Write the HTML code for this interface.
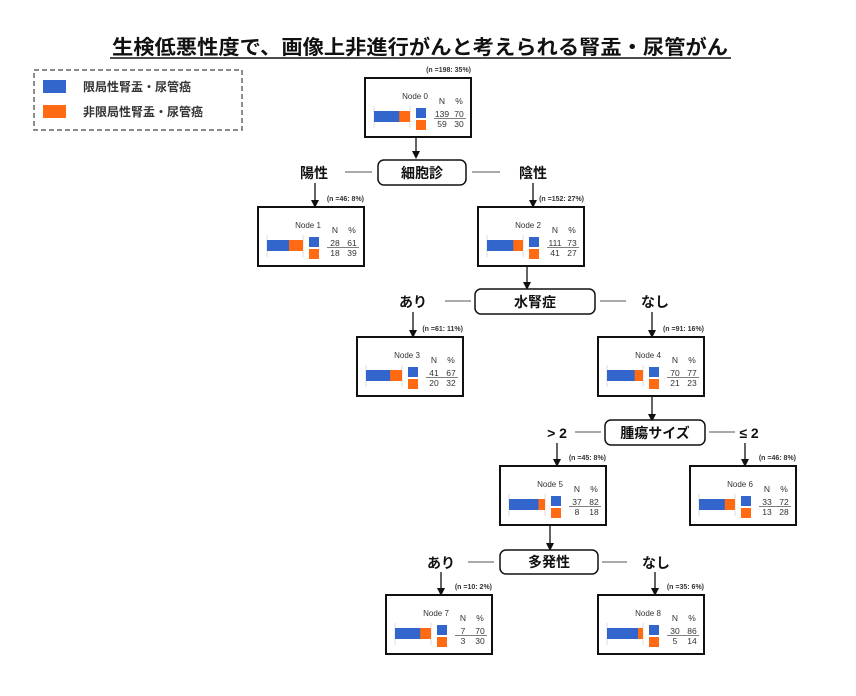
<!DOCTYPE html>
<html><head><meta charset="utf-8"><style>
html,body{margin:0;padding:0;background:#fff;}
svg{display:block;font-family:"Liberation Sans","Noto Sans CJK JP",sans-serif;}
.jp{font-family:"Liberation Sans","Noto Sans CJK JP",sans-serif;font-weight:bold;}
.nb{fill:#fff;stroke:#111;stroke-width:2}
.lb{font-size:7px;font-weight:bold;fill:#333}
.t{font-size:8.5px;fill:#333;text-anchor:middle}
.tk{stroke:#ddd;stroke-width:1}
.ul{stroke:#555;stroke-width:0.7}
</style></head><body>
<svg width="856" height="696" viewBox="0 0 856 696" xmlns="http://www.w3.org/2000/svg">
<defs><marker id="a" markerWidth="8" markerHeight="8" refX="4" refY="4" orient="auto" markerUnits="userSpaceOnUse"><path d="M0,0 L8,4 L0,8 z" fill="#111"/></marker>
<g id="nd">
<rect class="nb" x="0" y="0" width="106" height="59"/>
<line class="tk" x1="9" y1="28" x2="9" y2="50"/><line class="tk" x1="45" y1="28" x2="45" y2="50"/>
<rect x="9" y="33" width="36" height="11" fill="#ff6a13"/>
<rect x="51" y="30" width="10" height="10" fill="#3366cc"/>
<rect x="51" y="42" width="10" height="10" fill="#ff6a13"/>
<text class="t" x="77" y="26">N</text><text class="t" x="94" y="26">%</text>
<line class="ul" x1="69" y1="40.5" x2="101" y2="40.5"/>
</g>
</defs>
<!-- title -->
<text x="420" y="54" text-anchor="middle" class="jp" font-size="20" fill="#111" textLength="616" lengthAdjust="spacingAndGlyphs">生検低悪性度で、画像上非進行がんと考えられる腎盂・尿管がん</text>
<line x1="110" y1="58" x2="731" y2="58" stroke="#111" stroke-width="1.5"/>
<!-- legend -->
<rect x="34" y="70" width="208" height="60" fill="none" stroke="#666" stroke-width="1.5" stroke-dasharray="5,3"/>
<rect x="43" y="80" width="23" height="13" fill="#3366cc"/>
<rect x="43" y="105" width="23" height="13" fill="#ff6a13"/>
<text x="83" y="91" class="jp" font-size="12" fill="#333">限局性腎盂・尿管癌</text>
<text x="83" y="116" class="jp" font-size="12" fill="#333">非限局性腎盂・尿管癌</text>

<!-- nodes -->
<g transform="translate(365,78)"><use href="#nd"/><rect x="9" y="33" width="25.2" height="11" fill="#3366cc"/>
<text class="lb" x="106" y="-6" text-anchor="end">(n =198: 35%)</text><text x="50" y="21" text-anchor="middle" font-size="8" fill="#333">Node 0</text>
<text class="t" x="77" y="39">139</text><text class="t" x="94" y="39">70</text><text class="t" x="77" y="49">59</text><text class="t" x="94" y="49">30</text></g>

<g transform="translate(258,207)"><use href="#nd"/><rect x="9" y="33" width="22" height="11" fill="#3366cc"/>
<text class="lb" x="106" y="-6" text-anchor="end">(n =46: 8%)</text><text x="50" y="21" text-anchor="middle" font-size="8" fill="#333">Node 1</text>
<text class="t" x="77" y="39">28</text><text class="t" x="94" y="39">61</text><text class="t" x="77" y="49">18</text><text class="t" x="94" y="49">39</text></g>

<g transform="translate(478,207)"><use href="#nd"/><rect x="9" y="33" width="26.3" height="11" fill="#3366cc"/>
<text class="lb" x="106" y="-6" text-anchor="end">(n =152: 27%)</text><text x="50" y="21" text-anchor="middle" font-size="8" fill="#333">Node 2</text>
<text class="t" x="77" y="39">111</text><text class="t" x="94" y="39">73</text><text class="t" x="77" y="49">41</text><text class="t" x="94" y="49">27</text></g>

<g transform="translate(357,337)"><use href="#nd"/><rect x="9" y="33" width="24.1" height="11" fill="#3366cc"/>
<text class="lb" x="106" y="-6" text-anchor="end">(n =61: 11%)</text><text x="50" y="21" text-anchor="middle" font-size="8" fill="#333">Node 3</text>
<text class="t" x="77" y="39">41</text><text class="t" x="94" y="39">67</text><text class="t" x="77" y="49">20</text><text class="t" x="94" y="49">32</text></g>

<g transform="translate(598,337)"><use href="#nd"/><rect x="9" y="33" width="27.7" height="11" fill="#3366cc"/>
<text class="lb" x="106" y="-6" text-anchor="end">(n =91: 16%)</text><text x="50" y="21" text-anchor="middle" font-size="8" fill="#333">Node 4</text>
<text class="t" x="77" y="39">70</text><text class="t" x="94" y="39">77</text><text class="t" x="77" y="49">21</text><text class="t" x="94" y="49">23</text></g>

<g transform="translate(500,466)"><use href="#nd"/><rect x="9" y="33" width="29.5" height="11" fill="#3366cc"/>
<text class="lb" x="106" y="-6" text-anchor="end">(n =45: 8%)</text><text x="50" y="21" text-anchor="middle" font-size="8" fill="#333">Node 5</text>
<text class="t" x="77" y="39">37</text><text class="t" x="94" y="39">82</text><text class="t" x="77" y="49">8</text><text class="t" x="94" y="49">18</text></g>

<g transform="translate(690,466)"><use href="#nd"/><rect x="9" y="33" width="25.9" height="11" fill="#3366cc"/>
<text class="lb" x="106" y="-6" text-anchor="end">(n =46: 8%)</text><text x="50" y="21" text-anchor="middle" font-size="8" fill="#333">Node 6</text>
<text class="t" x="77" y="39">33</text><text class="t" x="94" y="39">72</text><text class="t" x="77" y="49">13</text><text class="t" x="94" y="49">28</text></g>

<g transform="translate(386,595)"><use href="#nd"/><rect x="9" y="33" width="25.2" height="11" fill="#3366cc"/>
<text class="lb" x="106" y="-6" text-anchor="end">(n =10: 2%)</text><text x="50" y="21" text-anchor="middle" font-size="8" fill="#333">Node 7</text>
<text class="t" x="77" y="39">7</text><text class="t" x="94" y="39">70</text><text class="t" x="77" y="49">3</text><text class="t" x="94" y="49">30</text></g>

<g transform="translate(598,595)"><use href="#nd"/><rect x="9" y="33" width="31" height="11" fill="#3366cc"/>
<text class="lb" x="106" y="-6" text-anchor="end">(n =35: 6%)</text><text x="50" y="21" text-anchor="middle" font-size="8" fill="#333">Node 8</text>
<text class="t" x="77" y="39">30</text><text class="t" x="94" y="39">86</text><text class="t" x="77" y="49">5</text><text class="t" x="94" y="49">14</text></g>

<!-- connectors -->
<g stroke="#111" stroke-width="1.3" fill="none">
<line x1="416" y1="138" x2="416" y2="155" marker-end="url(#a)"/>
<line x1="315" y1="183" x2="315" y2="204" marker-end="url(#a)"/>
<line x1="533" y1="183" x2="533" y2="204" marker-end="url(#a)"/>
<line x1="527" y1="267" x2="527" y2="286" marker-end="url(#a)"/>
<line x1="413" y1="312" x2="413" y2="334" marker-end="url(#a)"/>
<line x1="652" y1="312" x2="652" y2="334" marker-end="url(#a)"/>
<line x1="652" y1="397" x2="652" y2="418" marker-end="url(#a)"/>
<line x1="557" y1="443" x2="557" y2="463" marker-end="url(#a)"/>
<line x1="745" y1="443" x2="745" y2="463" marker-end="url(#a)"/>
<line x1="550" y1="526" x2="550" y2="547" marker-end="url(#a)"/>
<line x1="441" y1="572" x2="441" y2="592" marker-end="url(#a)"/>
<line x1="655" y1="572" x2="655" y2="592" marker-end="url(#a)"/>
</g>
<g stroke="#777" stroke-width="1.3">
<line x1="345" y1="172" x2="372" y2="172"/><line x1="472" y1="172" x2="500" y2="172"/>
<line x1="445" y1="301" x2="471" y2="301"/><line x1="600" y1="301" x2="626" y2="301"/>
<line x1="575" y1="432" x2="601" y2="432"/><line x1="709" y1="432" x2="735" y2="432"/>
<line x1="468" y1="562" x2="494" y2="562"/><line x1="602" y1="562" x2="627" y2="562"/>
</g>
<!-- split boxes -->
<g fill="#fff" stroke="#111" stroke-width="1.5">
<rect x="378" y="160" width="88" height="25" rx="6"/>
<rect x="475" y="289" width="120" height="25" rx="6"/>
<rect x="605" y="420" width="100" height="25" rx="6"/>
<rect x="500" y="550" width="98" height="24" rx="6"/>
</g>
<g class="jp" font-size="14" fill="#111" text-anchor="middle">
<text x="422" y="178">細胞診</text>
<text x="535" y="307">水腎症</text>
<text x="655" y="438">腫瘍サイズ</text>
<text x="549" y="567">多発性</text>
<text x="314" y="178">陽性</text>
<text x="533" y="178">陰性</text>
<text x="413" y="307">あり</text>
<text x="655" y="307">なし</text>
<text x="557" y="438">&gt; 2</text>
<text x="749" y="438">≤ 2</text>
<text x="441" y="568">あり</text>
<text x="656" y="568">なし</text>
</g>
</svg>
</body></html>
